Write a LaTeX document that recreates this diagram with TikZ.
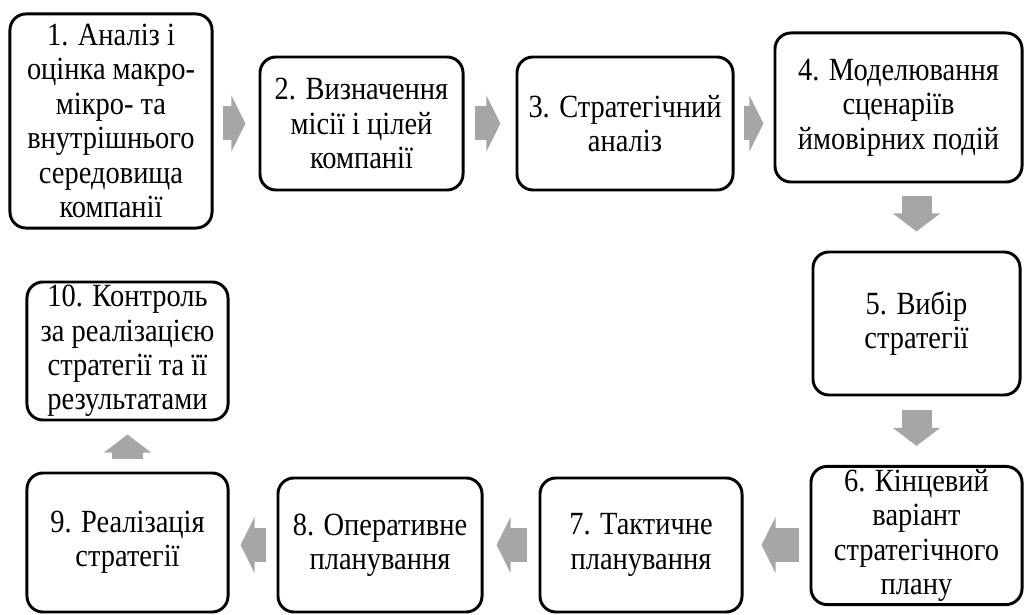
\documentclass[tikz,border=0pt]{standalone}
\definecolor{arrow_gray}{RGB}{166, 166, 166}
\usepackage{fontspec}
\setmainfont{Liberation Serif}[FakeStretch=0.88]
\usepackage{tikz}
\usetikzlibrary{arrows.meta, calc}

\begin{document}
\begin{tikzpicture}[x=0.025cm, y=-0.025cm,
    font=\fontsize{23}{24.5}\selectfont,
    stage/.style={draw, line width=2.1pt, rounded corners=0.4cm, fill=white,
                  align=center, inner sep=2pt},
    hflow/.style={draw=arrow_gray, line width=0.85cm,
                  -{Triangle[width=1.375cm, length=0.35cm]}},
    vflow/.style={draw=arrow_gray, line width=0.75cm,
                  -{Triangle[width=1.15cm, length=0.45cm]}}]
      \useasboundingbox (0,0) rectangle (1025,615);

      % top row
      \node[stage, minimum width=5.05cm, minimum height=5.35cm] (s1) at (111,121)
        {1. Аналіз і\\оцінка макро-\\мікро- та\\внутрішнього\\середовища\\компанії};
      \node[stage, minimum width=5.075cm, minimum height=3.325cm] (s2) at (361.5,123.5)
        {2. Визначення\\місії і цілей\\компанії};
      \node[stage, minimum width=5.4cm, minimum height=3.325cm] (s3) at (625,123.5)
        {3. Стратегічний\\аналіз};
      \node[stage, minimum width=6.175cm, minimum height=3.725cm] (s4) at (898.5,107.5)
        {4. Моделювання\\сценаріїв\\ймовірних подій};

      % right column
      \node[stage, minimum width=5.175cm, minimum height=3.575cm] (s5) at (916.5,323.5)
        {5. Вибір\\стратегії};
      \node[stage, minimum width=5.275cm, minimum height=3.375cm] (s6) at (916.5,535.5)
        {6. Кінцевий\\варіант\\стратегічного\\плану};

      % bottom row
      \node[stage, minimum width=5.05cm, minimum height=3.35cm] (s7) at (641,545)
        {7. Тактичне\\планування};
      \node[stage, minimum width=5.1cm, minimum height=3.35cm] (s8) at (380,545)
        {8. Оперативне\\планування};
      \node[stage, minimum width=5.025cm, minimum height=3.475cm] (s9) at (127.5,542.5)
        {9. Реалізація\\стратегії};
      \node[stage, minimum width=5.025cm, minimum height=3.45cm] (s10) at (127.5,351)
        {10. Контроль\\за реалізацією\\стратегії та її\\результатами};

      % block arrows
      \draw[hflow, shorten <=0.225cm, shorten >=0.325cm] (s2.west -| s1.east) -- (s2.west);
      \draw[hflow, shorten <=0.25cm, shorten >=0.375cm] (s2.east) -- (s3.west);
      \draw[hflow, shorten <=0.225cm, shorten >=0.25cm] (s3.east) -- (s3.east -| s4.west);
      \draw[vflow, shorten <=0.325cm, shorten >=0.475cm] (s5.north |- s4.south) -- (s5.north);
      \draw[vflow, shorten <=0.35cm, shorten >=0.475cm] (s5.south) -- (s6.north);
      \draw[hflow, shorten <=0.275cm, shorten >=0.45cm] (s7.east -| s6.west) -- (s7.east);
      \draw[hflow, shorten <=0.3cm, shorten >=0.325cm] (s7.west) -- (s8.east);
      \draw[hflow, shorten <=0.25cm, shorten >=0.275cm] (s8.west) -- (s8.west -| s9.east);
      \draw[vflow, shorten <=0.325cm, shorten >=0.325cm] (s9.north) -- (s10.south);
    \end{tikzpicture}
\end{document}
